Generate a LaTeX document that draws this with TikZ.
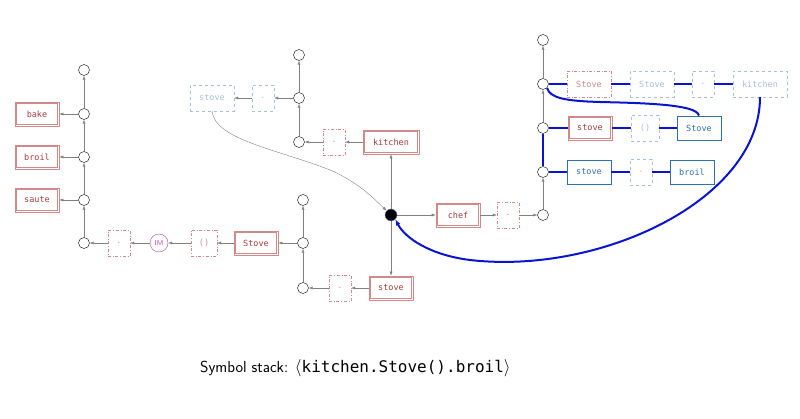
\documentclass[tikz,border=0pt]{standalone}
\usepackage{fontspec}
\setmainfont{Liberation Sans}
\setmonofont{DejaVu Sans Mono}
\usetikzlibrary{arrows.meta}
\definecolor{rdc}{HTML}{A83A3A}
\definecolor{rdl}{HTML}{D08A8A}
\definecolor{bl}{HTML}{2F6FB0}
\definecolor{bll}{HTML}{A8BEE0}
\definecolor{thick}{HTML}{0A14D0}
\begin{document}
\begin{tikzpicture}[x=1pt,y=-1pt,
 every node/.style={font=\ttfamily\fontsize{8.5}{9}\selectfont, inner sep=0pt},
 c/.style={circle,draw,minimum size=11pt,fill=white},
 rbox/.style={draw=rdl,line width=0.6pt,text=rdc,minimum width=44pt,minimum height=24pt,
   append after command={\pgfextra{\draw[rdl,line width=0.6pt] ([shift={(2pt,2pt)}]\tikzlastnode.south west) rectangle ([shift={(-2pt,-2pt)}]\tikzlastnode.north east);}}},
 rdash/.style={draw=rdl,dash dot,text=rdl,minimum width=22pt,minimum height=26pt},
 bdash/.style={draw=bll,dashed,text=bll,minimum width=22pt,minimum height=26pt},
 bsol/.style={draw=bl,text=bl,minimum width=44pt,minimum height=24pt,line width=0.8pt},
 ar/.style={draw=gray,-{Latex[length=4pt,width=3pt]}},
 tb/.style={draw=thick,line width=2pt},
]
\useasboundingbox (0,0) rectangle (800,419);
% left column
\node[c] (l0) at (84,70) {};
\node[c] (l1) at (84,114) {};
\node[c] (l2) at (84,157) {};
\node[c] (l3) at (84,200) {};
\node[c] (l4) at (84,243) {};
\node[rbox] (bake) at (37,114) {bake};
\node[rbox] (broil) at (37,157) {broil};
\node[rbox] (saute) at (37,200) {saute};
\node[rdash] (d1) at (119,243) {.};
\node[circle,draw=violet!70,text=violet!70,minimum size=18pt,font=\sffamily\fontsize{7}{8}\selectfont] (im) at (159,243) {IM};
\node[rdash,minimum width=26pt] (p1) at (204,243) {()};
\node[rbox] (Stove1) at (256,243) {Stove};
\node[c] (m0) at (303,200) {};
\node[c] (m1) at (303,243) {};
\node[c] (m2) at (303,288) {};
\node[rdash] (d2) at (340,288) {.};
\node[rbox] (stove1) at (391,288) {stove};
\foreach \u/\v in {l4/l3,l3/l2,l2/l1,l1/l0,l1/bake,l2/broil,l3/saute,d1/l4,im/d1,p1/im,Stove1/p1,m1/Stove1,m1/m0,m2/m1,d2/m2,stove1/d2}
  \draw[ar] (\u) -- (\v);
% top middle
\node[circle,fill=black,draw=thick!60,minimum size=12pt] (dot) at (391,215) {};
\node[rbox,minimum width=56pt] (kitchen) at (391,142) {kitchen};
\node[rdash] (d3) at (334,142) {.};
\node[c] (t0) at (299,55) {};
\node[c] (t1) at (299,98) {};
\node[c] (t2) at (299,142) {};
\node[bdash] (d4) at (263,98) {.};
\node[bdash,minimum width=44pt] (stove0) at (212,98) {stove};
\foreach \u/\v in {dot/kitchen,dot/stove1,kitchen/d3,d3/t2,t2/t1,t1/t0,t1/d4,d4/stove0}
  \draw[ar] (\u) -- (\v);
% right
\node[rbox] (chef) at (458,215) {chef};
\node[rdash] (d5) at (508,215) {.};
\node[c] (r0) at (543,40) {};
\node[c] (r1) at (543,84) {};
\node[c] (r2) at (543,128) {};
\node[c] (r3) at (543,172) {};
\node[c] (r4) at (543,215) {};
\foreach \u/\v in {dot/chef,chef/d5,d5/r4,r4/r3,r2/r1,r1/r0}
  \draw[ar] (\u) -- (\v);
\node[rdash,minimum width=44pt] (Stove2) at (589,84) {Stove};
\node[bdash,minimum width=44pt] (Stove3) at (652,84) {Stove};
\node[bdash] (d6) at (703,84) {.};
\node[bdash,minimum width=54pt] (kitchen2) at (760,84) {kitchen};
\node[rbox] (stove2) at (590,128) {stove};
\node[bdash,minimum width=28pt] (p2) at (645,128) {()};
\node[bsol] (Stove4) at (699,128) {Stove};
\node[bsol] (stove3) at (589,172) {stove};
\node[bdash] (d7) at (641,172) {.};
\node[bsol] (broil2) at (692,172) {broil};
\draw[tb] (r1) -- (Stove2) (Stove2) -- (Stove3) (Stove3) -- (d6) (d6) -- (kitchen2);
\draw[tb] (r2) -- (stove2) (stove2) -- (p2) (p2) -- (Stove4);
\draw[tb] (r3) -- (stove3) (stove3) -- (d7) (d7) -- (broil2);
\draw[tb] (r2) -- (r3);
\draw[tb] (Stove4.north) .. controls (697,104) and (640,103) .. (600,102) .. controls (565,101) and (550,98) .. (r1.south east);
\draw[tb,-{Latex[length=6pt,width=5pt]}] (kitchen2.south) .. controls (760,200) and (600,275) .. (470,260) .. controls (430,255) and (405,238) .. (dot.south east);
\draw[ar] (stove0.south) .. controls (215,140) and (280,150) .. (330,170) .. controls (360,183) and (375,200) .. (dot.north west);
% caption
\node[font=\sffamily\fontsize{16}{18}\selectfont,anchor=west] (cap) at (200,368) {Symbol stack: $\langle$\texttt{kitchen.Stove().broil}$\rangle$};
\end{tikzpicture}
\end{document}
